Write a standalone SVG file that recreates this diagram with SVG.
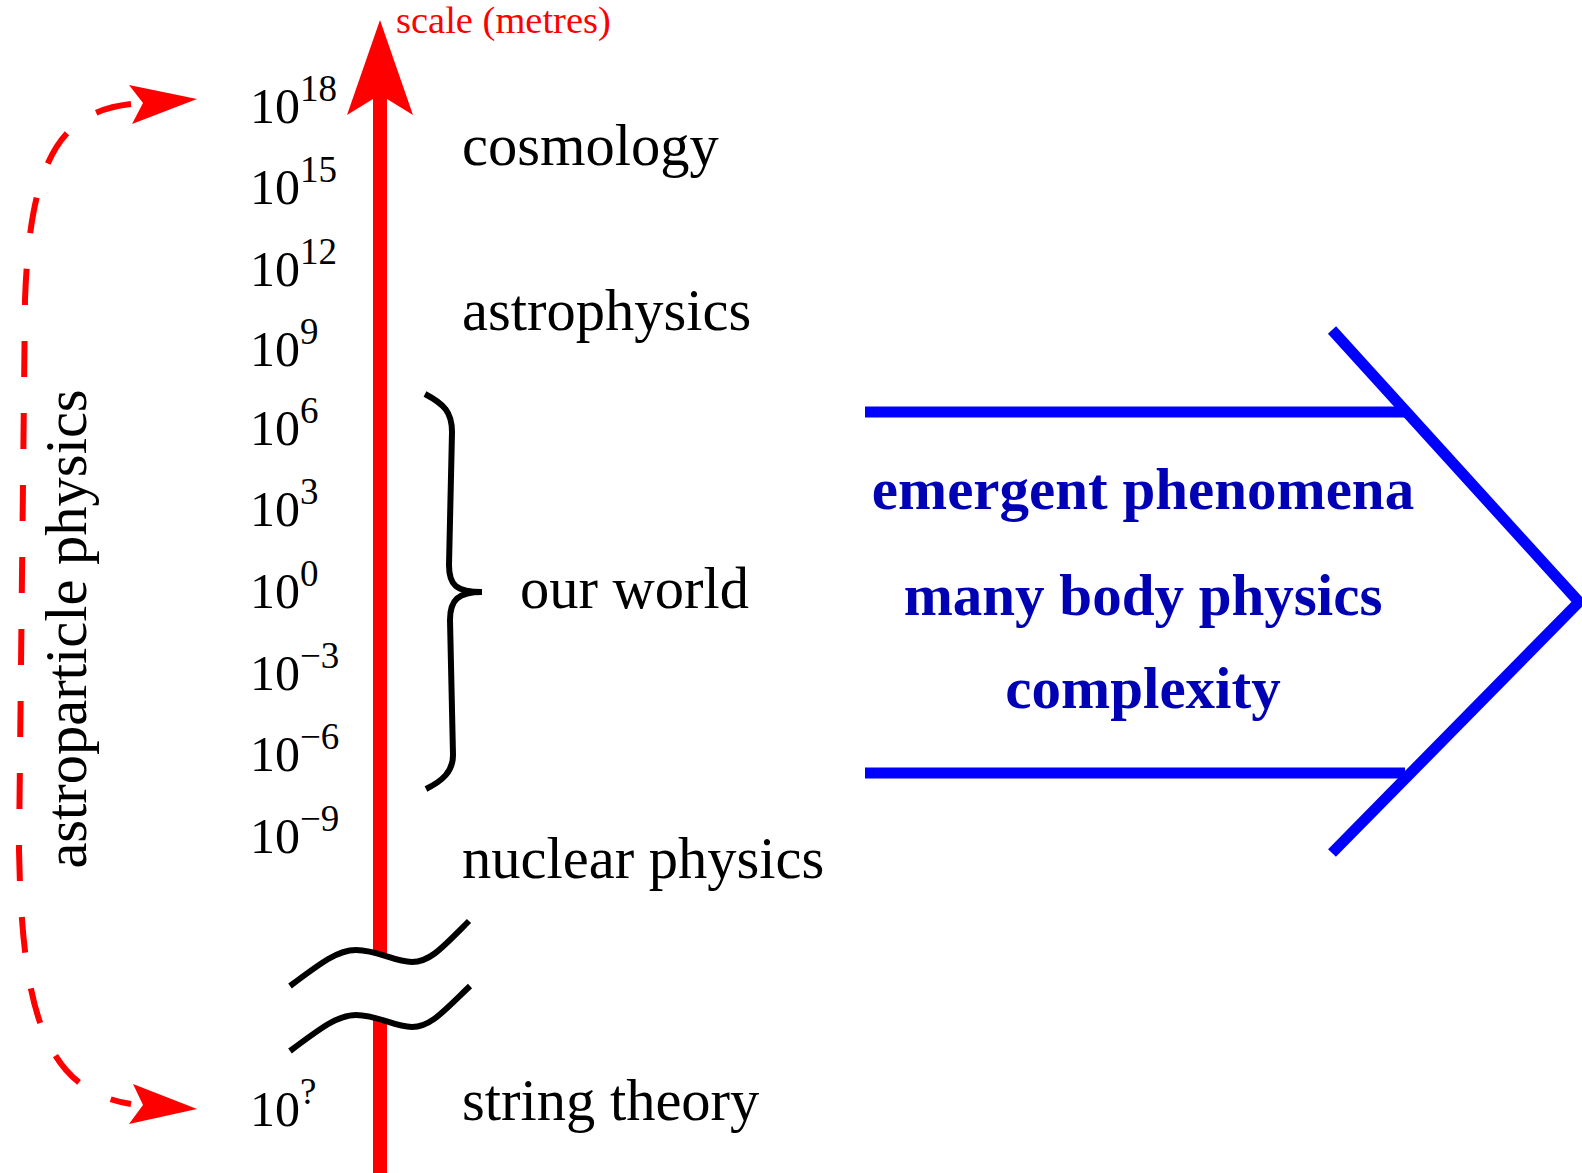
<svg xmlns="http://www.w3.org/2000/svg" width="1582" height="1173" viewBox="0 0 1582 1173">
<style>
.tick{font-family:"Liberation Serif","Times New Roman",serif;font-size:50px;fill:#000}
.sup{font-size:37px}
.lbl{font-family:"Liberation Serif","Times New Roman",serif;font-size:58.5px;fill:#000}
.blue{font-family:"Liberation Serif","Times New Roman",serif;font-size:59px;font-weight:bold;fill:#0000b4;text-anchor:middle}
.blk{fill:none;stroke:#000;stroke-width:6;stroke-linecap:butt}
.bl{fill:none;stroke:#0000ff;stroke-width:11}
</style>
<rect width="1582" height="1173" fill="#fff"/>
<g id="axis">
<rect x="373" y="98" width="14" height="857" fill="#ff0000"/>
<rect x="373" y="1020" width="14" height="153" fill="#ff0000"/>
<polygon points="380,20 413,115 387,99 373,99 347,115" fill="#ff0000"/>
<text x="396" y="33" font-family="Liberation Serif, Times New Roman, serif" font-size="38.5" fill="#ff0000">scale (metres)</text>
</g>
<g id="ticks">
<text class="tick" x="250" y="123">10<tspan class="sup" dy="-22">18</tspan></text>
<text class="tick" x="250" y="204">10<tspan class="sup" dy="-22">15</tspan></text>
<text class="tick" x="250" y="286">10<tspan class="sup" dy="-22">12</tspan></text>
<text class="tick" x="250" y="366">10<tspan class="sup" dy="-22">9</tspan></text>
<text class="tick" x="250" y="445">10<tspan class="sup" dy="-22">6</tspan></text>
<text class="tick" x="250" y="526">10<tspan class="sup" dy="-22">3</tspan></text>
<text class="tick" x="250" y="608">10<tspan class="sup" dy="-22">0</tspan></text>
<text class="tick" x="250" y="690">10<tspan class="sup" dy="-22">−3</tspan></text>
<text class="tick" x="250" y="771">10<tspan class="sup" dy="-22">−6</tspan></text>
<text class="tick" x="250" y="853">10<tspan class="sup" dy="-22">−9</tspan></text>
<text class="tick" x="250" y="1126">10<tspan class="sup" dy="-22">?</tspan></text>
</g>
<g id="labels">
<text class="lbl" x="462" y="165">cosmology</text>
<text class="lbl" x="462" y="330">astrophysics</text>
<text class="lbl" x="520" y="608">our world</text>
<text class="lbl" x="462" y="878">nuclear physics</text>
<text class="lbl" x="462" y="1120">string theory</text>
<text class="lbl" transform="translate(86,629) rotate(-90)" text-anchor="middle">astroparticle physics</text>
</g>
<g id="brace">
<path class="blk" d="M425,394 C444,404 452,412 452,432 L449,565 C449,585 456,592 482,592 M482,592 C458,592 450,600 450,620 L453,755 C453,772 442,781 426,789"/>
</g>
<g id="break">
<path class="blk" d="M290,986 C322,962 338,950 356,950 C378,950 394,962 412,962 C430,962 442,948 469,921"/>
<path class="blk" d="M290,1051 C322,1027 338,1015 356,1015 C378,1015 394,1027 412,1027 C430,1027 442,1013 470,986"/>
</g>
<g id="connectors">
<path d="M131,104 C60,112 30,160 25,300 L19,850 C22,1000 40,1090 131,1104" fill="none" stroke="#ff0000" stroke-width="6" stroke-dasharray="36 36"/>
<polygon points="197,99 129,85 143,103 132,124" fill="#ff0000"/>
<polygon points="197,1109 133,1084 143,1105 129,1124" fill="#ff0000"/>
</g>
<g id="emergence">
<line class="bl" x1="865" y1="412" x2="1405" y2="412"/>
<line class="bl" x1="865" y1="773" x2="1405" y2="773"/>
<polyline class="bl" points="1332,330 1579,602 1332,853" fill="none"/>
<text class="blue" x="1143" y="509">emergent phenomena</text>
<text class="blue" x="1143" y="615">many body physics</text>
<text class="blue" x="1143" y="708">complexity</text>
</g>
</svg>
